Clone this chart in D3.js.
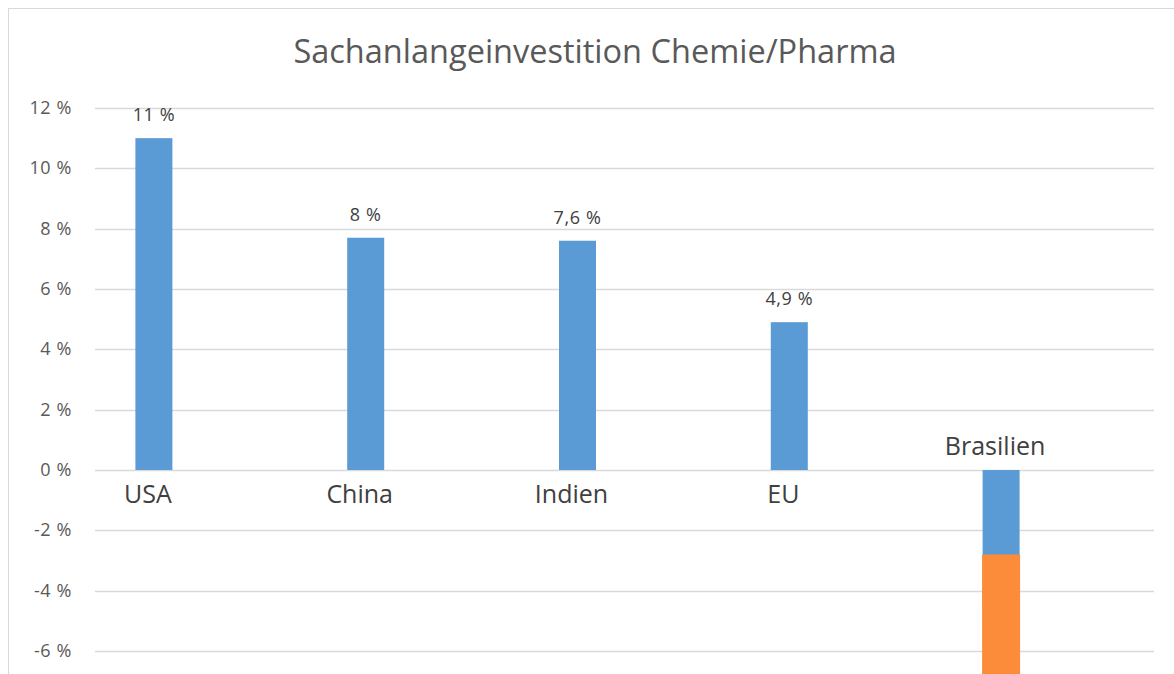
<!DOCTYPE html>
<html>
<head>
<meta charset="utf-8">
<script src="https://cdnjs.cloudflare.com/ajax/libs/d3/7.8.5/d3.min.js"></script>
<style>
  html, body { margin: 0; padding: 0; background: #fff; overflow: hidden; }
  #corpo { width: 1174px; height: 674px; }
  text { font-family: "Open Sans", sans-serif; }
</style>
</head>
<body>
<div id="corpo"></div>
<script>
// data
var laender = ["USA", "China", "Indien", "EU", "Brasilien"];
var werte = [11, 7.7, 7.6, 4.9, -4.6];
var wertLabels = ["11 %", "8 %", "7,6 %", "4,9 %", "-5 %"];
var yTicks = [-6, -4, -2, 0, 2, 4, 6, 8, 10, 12];
// orange block lying over the Brasilien bar (from / to in %)
var overlay = [{ land: "Brasilien", von: -2.8, bis: -9 }];
var titel = "Sachanlangeinvestition Chemie/Pharma";

var width = 1174, height = 674;
var plotLeft = 95, plotRight = 1154;

var svg = d3.select("#corpo").append("svg")
    .attr("width", width)
    .attr("height", height);

// chart frame (cropped on right/bottom like the original)
svg.append("rect")
    .attr("x", 8.5).attr("y", 8.5)
    .attr("width", width + 20).attr("height", height + 20)
    .attr("fill", "#fff")
    .attr("stroke", "#d9d9d9");

var y = d3.scaleLinear()
    .domain([-6, 12])
    .range([651, 108]);

// category bands sit a bit left of the gridline span in the original
var x = d3.scaleBand()
    .domain(laender)
    .range([plotLeft - 47, plotRight - 47]);

var barW = 37;
function cx(l) { return x(l) + x.bandwidth() / 2; }

// title
svg.append("text")
    .attr("x", 595).attr("y", 63)
    .attr("text-anchor", "middle")
    .style("font-size", "32.5px")
    .style("fill", "#595959")
    .text(titel);

// gridlines
svg.append("g").selectAll("line")
    .data(yTicks)
    .enter().append("line")
    .attr("x1", plotLeft).attr("x2", plotRight)
    .attr("y1", function(d) { return Math.round(y(d)) + 0.5; })
    .attr("y2", function(d) { return Math.round(y(d)) + 0.5; })
    .attr("stroke", "#d9d9d9")
    .attr("stroke-width", 1.5);

// y tick labels
svg.append("g").selectAll("text")
    .data(yTicks)
    .enter().append("text")
    .attr("x", 72)
    .attr("y", function(d) { return y(d) + 6; })
    .attr("text-anchor", "end")
    .style("font-size", "18px")
    .style("letter-spacing", "0.6px")
    .style("fill", "#595959")
    .text(function(d) { return d + " %"; });

var data = laender.map(function(l, i) {
    return { land: l, valor: werte[i], label: wertLabels[i] };
});

// bars
svg.append("g").selectAll("rect")
    .data(data)
    .enter().append("rect")
    .attr("x", function(d) { return cx(d.land) - barW / 2; })
    .attr("width", barW)
    .attr("y", function(d) { return y(Math.max(0, d.valor)); })
    .attr("height", function(d) { return Math.abs(y(d.valor) - y(0)); })
    .style("fill", "#5b9bd5");

// data labels
svg.append("g").selectAll("text")
    .data(data)
    .enter().append("text")
    .attr("x", function(d) { return cx(d.land); })
    .attr("y", function(d) {
        return d.valor >= 0 ? y(d.valor) - 17 : y(d.valor) + 17;
    })
    .attr("text-anchor", "middle")
    .style("font-size", "18px")
    .style("letter-spacing", "0.6px")
    .style("fill", "#404040")
    .text(function(d) { return d.label; });

// category labels at the zero line
svg.append("g").selectAll("text")
    .data(data)
    .enter().append("text")
    .attr("x", function(d) { return cx(d.land) - 6; })
    .attr("y", function(d) { return d.valor >= 0 ? y(0) + 33 : y(0) - 15; })
    .attr("text-anchor", "middle")
    .style("font-size", "25px")
    .style("fill", "#404040")
    .text(function(d) { return d.land; });

// orange block on top
svg.append("g").selectAll("rect")
    .data(overlay)
    .enter().append("rect")
    .attr("x", function(d) { return cx(d.land) - barW / 2 - 0.5; })
    .attr("width", barW + 1)
    .attr("y", function(d) { return y(d.von); })
    .attr("height", function(d) { return y(d.bis) - y(d.von); })
    .style("fill", "#fd8c3a");
</script>
</body>
</html>
